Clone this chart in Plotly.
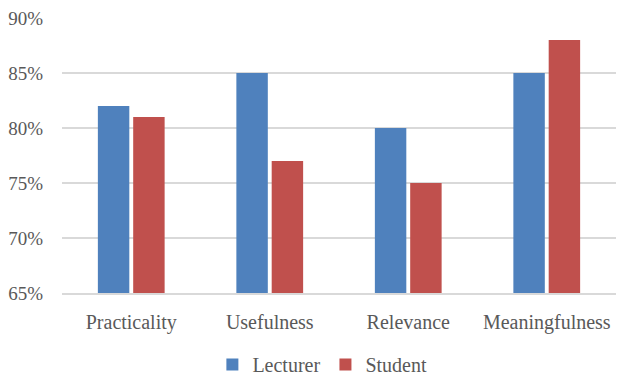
import plotly.graph_objects as go

categories = ["Practicality", "Usefulness", "Relevance", "Meaningfulness"]
lecturer = [82, 85, 80, 85]
student = [81, 77, 75, 88]
y_ticks = [65, 70, 75, 80, 85, 90]
y_tick_labels = ["65%", "70%", "75%", "80%", "85%", "90%"]

FONT = "Liberation Serif"
GREY = "#595959"

fig = go.Figure()
fig.add_trace(go.Bar(name="Lecturer", x=categories, y=lecturer, marker_color="#4F81BD",
                     marker_line_width=0))
fig.add_trace(go.Bar(name="Student", x=categories, y=student, marker_color="#C0504D",
                     marker_line_width=0))

fig.update_layout(
    width=618, height=376,
    margin=dict(l=62, r=2, t=18, b=83, autoexpand=False),
    paper_bgcolor="white", plot_bgcolor="white",
    barmode="group", bargap=0.49, bargroupgap=0.11,
    font=dict(family=FONT, size=20, color=GREY),
    showlegend=True,
    legend=dict(orientation="h", x=0.47, xanchor="center", y=-0.26, yanchor="middle",
                font=dict(family=FONT, size=20, color=GREY), itemwidth=30,
                traceorder="normal"),
)
fig.update_yaxes(range=[65, 90], tickvals=y_ticks, ticktext=y_tick_labels,
                 tickfont=dict(family=FONT, size=19, color=GREY),
                 showgrid=True, gridcolor="#D9D9D9", gridwidth=1.5,
                 zeroline=False, showline=False, ticks="", ticklabelstandoff=18)
fig.update_xaxes(showline=True, linecolor="#D9D9D9", linewidth=1.5, ticks="",
                 tickfont=dict(family=FONT, size=20, color=GREY),
                 ticklabelstandoff=10)

fig.write_html("out.html")
